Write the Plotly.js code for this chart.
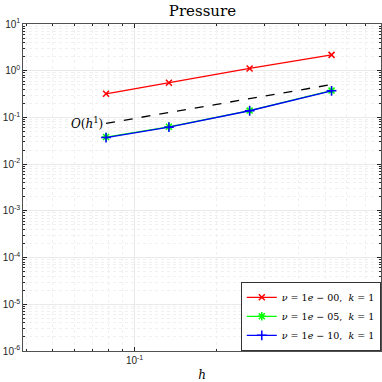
<!DOCTYPE html>
<html><head><meta charset="utf-8">
<script src="https://cdn.plot.ly/plotly-3.0.1.min.js"></script>
<style>html,body{margin:0;padding:0;background:#fff}#plot{width:382px;height:382px}</style>
</head><body><div id="plot"></div>
<script>
const h = [0.0786, 0.1336, 0.2640, 0.5270];
const errNu0 = [0.32, 0.55, 1.12, 2.18];
const errNu5 = [0.038, 0.063, 0.140, 0.375];
const errNu10 = [0.037, 0.062, 0.139, 0.372];
const refH = [0.0786, 0.5270];
const refVal = [0.0747, 0.505];
const names = ['<i>ν</i> = 1<i>e</i> − 00,  <i>k</i> = 1', '<i>ν</i> = 1<i>e</i> − 05,  <i>k</i> = 1', '<i>ν</i> = 1<i>e</i> − 10,  <i>k</i> = 1'];
const yExps = [-6, -5, -4, -3, -2, -1, 0, 1];
const xExps = [-1];

const serif = "DejaVu Serif";
const sans = "Liberation Sans";
const powText = e => '10<sup>' + (e < 0 ? '-' : '') + Math.abs(e) + '</sup>';

const traces = [
  {x: h, y: errNu0, name: names[0], mode: 'lines+markers', line: {color: '#ff0000', width: 1.3},
   marker: {symbol: 'x-thin-open', size: 6, color: '#ff0000', line: {width: 1.5, color: '#ff0000'}}},
  {x: h, y: errNu5, name: names[1], mode: 'lines+markers', line: {color: '#00ff00', width: 1.3},
   marker: {symbol: 'asterisk-open', size: 7, color: '#00ff00', line: {width: 1.5, color: '#00ff00'}}},
  {x: h, y: errNu10, name: names[2], mode: 'lines+markers', line: {color: '#0000ff', width: 1.3},
   marker: {symbol: 'cross-thin-open', size: 7, color: '#0000ff', line: {width: 1.5, color: '#0000ff'}}},
  {x: refH, y: refVal, mode: 'lines', showlegend: false, line: {color: '#000', width: 1.3, dash: 'dash'}}
];

const axisCommon = {
  type: 'log', showline: true, mirror: 'ticks', linecolor: '#262626', linewidth: 0.8,
  ticks: 'inside', ticklen: 4, tickcolor: '#262626',
  showgrid: true, gridcolor: '#e6e6e6', gridwidth: 0.8,
  tickmode: 'array',
  tickfont: {family: sans, size: 10, color: '#262626'},
  minor: {dtick: 'D1', showgrid: true, gridcolor: '#ececec', griddash: 'dot', ticks: 'inside', ticklen: 2, tickcolor: '#262626'},
  zeroline: false
};

const layout = {
  width: 382, height: 382,
  margin: {l: 23, r: 1, t: 24, b: 31},
  paper_bgcolor: '#fff', plot_bgcolor: '#fff',
  font: {family: serif},
  title: {text: 'Pressure', font: {family: serif, size: 15, color: '#000'}, x: 0.53, xanchor: 'center', y: 0.985, yanchor: 'top'},
  xaxis: Object.assign({}, axisCommon, {range: [Math.log10(0.039), Math.log10(0.8)],
    tickvals: xExps.map(e => Math.pow(10, e)), ticktext: xExps.map(powText),
    title: {text: '<i>h</i>', font: {family: serif, size: 12, color: '#000'}, standoff: 6}}),
  yaxis: Object.assign({}, axisCommon, {range: [-6, 1],
    tickvals: yExps.map(e => Math.pow(10, e)), ticktext: yExps.map(powText)}),
  showlegend: true,
  legend: {x: 1, y: 0, xanchor: 'right', yanchor: 'bottom', bgcolor: '#fff', bordercolor: '#000', borderwidth: 0.8,
    font: {family: serif, size: 9.5, color: '#000'}, itemwidth: 30, tracegroupgap: 0},
  annotations: [{x: Math.log10(refH[0]), y: Math.log10(refVal[0]), xref: 'x', yref: 'y', xanchor: 'right', yanchor: 'middle',
    xshift: -1, text: '<i>O</i>(<i>h</i><sup>1</sup>)', showarrow: false, font: {family: serif, size: 12, color: '#000'}}]
};

Plotly.newPlot('plot', traces, layout, {displayModeBar: false, staticPlot: true});
</script></body></html>
